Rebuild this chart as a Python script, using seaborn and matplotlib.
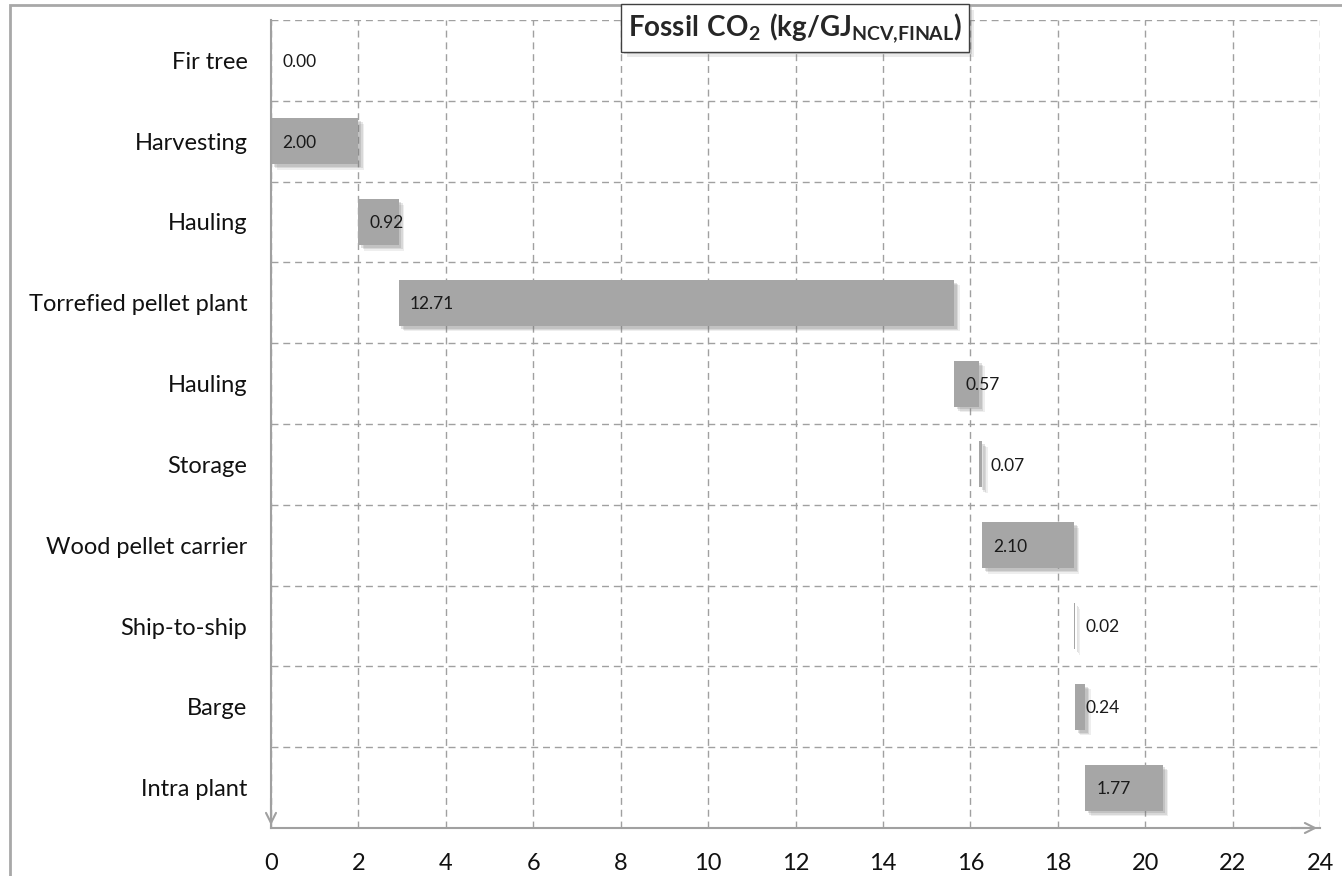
import numpy as np
import pandas as pd
import matplotlib
matplotlib.use("Agg")
import matplotlib.pyplot as plt
import matplotlib.patheffects as pe
from matplotlib.patches import Rectangle
import seaborn as sns

# Supply-chain steps and their fossil CO2 contribution (kg/GJ)
steps = ["Fir tree", "Harvesting", "Hauling", "Torrefied pellet plant", "Hauling",
         "Storage", "Wood pellet carrier", "Ship-to-ship", "Barge", "Intra plant"]
values = [0.00, 2.00, 0.92, 12.71, 0.57, 0.07, 2.10, 0.02, 0.24, 1.77]
x_ticks = [0, 2, 4, 6, 8, 10, 12, 14, 16, 18, 20, 22, 24]

# waterfall: each bar starts where the previous one ended
starts = np.concatenate([[0.0], np.cumsum(values)[:-1]])

df = pd.DataFrame({"pos": np.arange(len(steps)), "value": values})

sns.set_theme(style="white")
plt.rcParams["font.family"] = ["Lato", "DejaVu Sans"]
plt.rcParams["mathtext.fontset"] = "custom"
plt.rcParams["mathtext.rm"] = "Lato:bold"
plt.rcParams["mathtext.default"] = "rm"

W, H = 1342, 876
fig = plt.figure(figsize=(W / 100, H / 100), dpi=100)
ax = fig.add_axes([271 / W, 1 - 828 / H, (1320 - 271) / W, (828 - 20) / H])

grey = "#A6A6A6"
line_grey = "#A0A0A0"

sns.barplot(data=df, x="value", y="pos", orient="h", order=list(range(len(steps))),
            left=starts, color=grey, saturation=1, width=0.57, ax=ax, zorder=3,
            linewidth=0)

# soft drop shadow below/right of every bar
soft_shadow = [
    pe.SimplePatchShadow(offset=(4, -4), shadow_rgbFace="#777777", alpha=0.12),
    pe.SimplePatchShadow(offset=(3, -3), shadow_rgbFace="#777777", alpha=0.18),
    pe.SimplePatchShadow(offset=(2, -2), shadow_rgbFace="#777777", alpha=0.22),
    pe.Normal(),
]
for bar in ax.patches:
    bar.set_path_effects(soft_shadow)

ax.set_xlim(0, 24)
ax.set_ylim(len(steps) - 0.5, -0.5)
ax.set_xticks(x_ticks)
ax.set_xticklabels([str(t) for t in x_ticks])
ax.set_yticks(range(len(steps)))
ax.set_yticklabels(steps)
ax.set_yticks(np.arange(-0.5, len(steps) - 0.5, 1.0), minor=True)
ax.set_xlabel("")
ax.set_ylabel("")

ax.tick_params(axis="y", which="major", length=0, pad=17, labelsize=17, labelcolor="#111111")
ax.tick_params(axis="y", which="minor", length=8, width=1, color=line_grey, direction="out")
ax.tick_params(axis="x", which="major", length=12, width=1, color=line_grey, direction="inout",
               pad=12, labelsize=17, labelcolor="#111111")

ax.grid(False)
ax.grid(axis="x", which="major", color=line_grey, linestyle=(0, (5, 3.5)), linewidth=1, zorder=0)
ax.grid(axis="y", which="minor", color=line_grey, linestyle=(0, (5, 3.5)), linewidth=1, zorder=0)
ax.set_axisbelow(True)

for side in ["top", "right"]:
    ax.spines[side].set_visible(False)
for side in ["left", "bottom"]:
    ax.spines[side].set_color(line_grey)
    ax.spines[side].set_linewidth(1.5)
    ax.spines[side].set_zorder(4)

# arrowheads at the ends of the axes
ax.annotate("", xy=(1.0, 0), xytext=(0.97, 0), xycoords="axes fraction",
            arrowprops=dict(arrowstyle="->", color=line_grey, lw=1.5, mutation_scale=18),
            annotation_clip=False, zorder=5)
ax.annotate("", xy=(0, 0), xytext=(0, 0.04), xycoords="axes fraction",
            arrowprops=dict(arrowstyle="->", color=line_grey, lw=1.5, mutation_scale=18),
            annotation_clip=False, zorder=5)

# value labels just inside the start of each bar
for i, (s, v) in enumerate(zip(starts, values)):
    ax.annotate(f"{v:.2f}", xy=(s, i), xytext=(8, -1), textcoords="offset points",
                ha="left", va="center", fontsize=12.5, color="#1a1a1a", zorder=6)

# chart title in a framed box
title = fig.text(795 / W, 1 - 28 / H, r"$\mathrm{Fossil\ CO_2\ (kg/GJ_{NCV{,}FINAL})}$",
                 ha="center", va="center", fontsize=20, zorder=10)
title.set_bbox(dict(boxstyle="square,pad=0.25", facecolor="white", edgecolor="#404040", linewidth=1))
title.get_bbox_patch().set_path_effects([
    pe.SimplePatchShadow(offset=(4, -4), shadow_rgbFace="#777777", alpha=0.15),
    pe.SimplePatchShadow(offset=(2, -2), shadow_rgbFace="#777777", alpha=0.25),
    pe.Normal(),
])

# outer frame of the figure
fig.patches.append(Rectangle((9.5 / W, -0.1), 1.1, 1.1 - 4.5 / H, transform=fig.transFigure,
                             fill=False, edgecolor="#A8A8A8", linewidth=2, zorder=0))

fig.savefig("out.png", dpi=100)
